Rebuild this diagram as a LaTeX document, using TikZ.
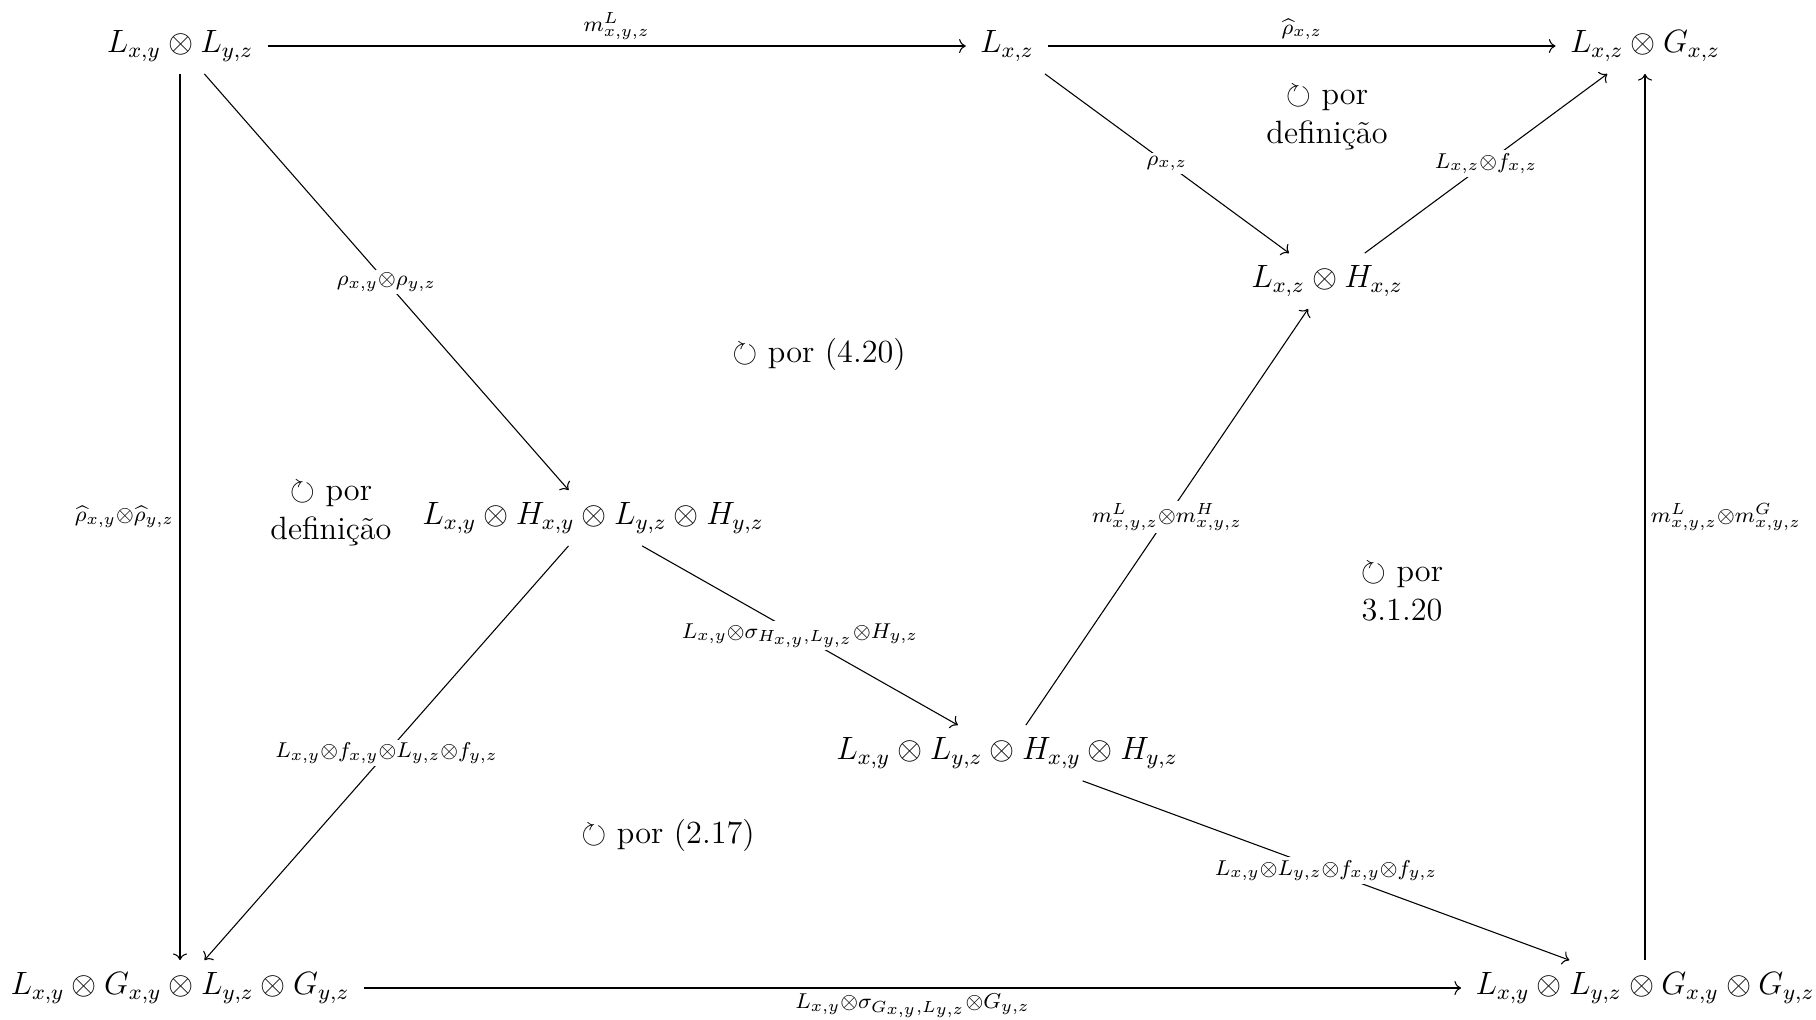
\documentclass[12pt,tikz,border=0pt]{standalone}
\usepackage{amsmath,amssymb}
\usetikzlibrary{arrows.meta,calc}
\begin{document}
\begin{tikzpicture}[x=0.372pt,y=-0.372pt,
  obj/.style={inner xsep=1ex,inner ysep=0.85ex},
  arr/.style={-{Computer Modern Rightarrow},line width=0.4pt},
  desc/.style={fill=white,inner sep=1pt,execute at begin node=$\scriptstyle,execute at end node=$},
  lab/.style={inner sep=2pt,execute at begin node=$\scriptstyle,execute at end node=$},
  comm/.style={align=center,inner sep=0pt}]
\useasboundingbox (0,0) rectangle (1816,1019);
% objects
\node[obj] (A) at (180,46) {$L_{x,y}\otimes L_{y,z}$};
\node[obj] (B) at (1007,46) {$L_{x,z}$};
\node[obj] (C) at (1645,46) {$L_{x,z}\otimes G_{x,z}$};
\node[obj] (D) at (1327,281) {$L_{x,z}\otimes H_{x,z}$};
\node[obj] (E) at (593,518) {$L_{x,y}\otimes H_{x,y}\otimes L_{y,z}\otimes H_{y,z}$};
\node[obj] (F) at (1007,753) {$L_{x,y}\otimes L_{y,z}\otimes H_{x,y}\otimes H_{y,z}$};
\node[obj] (G) at (180,988) {$L_{x,y}\otimes G_{x,y}\otimes L_{y,z}\otimes G_{y,z}$};
\node[obj] (H) at (1645,988) {$L_{x,y}\otimes L_{y,z}\otimes G_{x,y}\otimes G_{y,z}$};
% arrows
\draw[arr] (A) -- node[lab,above] {m^L_{x,y,z}} (B);
\draw[arr] (B) -- node[lab,above] {\widehat{\rho}_{x,z}} (C);
\draw[arr] (B) -- (D);
\node[desc] at ($(B)!.5!(D)$) {\rho_{x,z}};
\draw[arr] (D) -- (C);
\node[desc] at ($(D)!.5!(C)$) {L_{x,z}\otimes f_{x,z}};
\draw[arr] (A) -- (E);
\node[desc] at ($(A)!.5!(E)$) {\rho_{x,y}\otimes\rho_{y,z}};
\draw[arr] (A) -- node[lab,left] {\widehat{\rho}_{x,y}\otimes\widehat{\rho}_{y,z}} (G);
\draw[arr] (E) -- (G);
\node[desc] at ($(E)!.5!(G)$) {L_{x,y}\otimes f_{x,y}\otimes L_{y,z}\otimes f_{y,z}};
\draw[arr] (E) -- (F);
\node[desc] at ($(E)!.5!(F)$) {L_{x,y}\otimes\sigma_{H_{x,y},L_{y,z}}\otimes H_{y,z}};
\draw[arr] (F) -- (D);
\node[desc] at ($(F)!.5!(D)$) {m^L_{x,y,z}\otimes m^H_{x,y,z}};
\draw[arr] (F) -- (H);
\node[desc] at ($(F)!.5!(H)$) {L_{x,y}\otimes L_{y,z}\otimes f_{x,y}\otimes f_{y,z}};
\draw[arr] (G) -- node[lab,below] {L_{x,y}\otimes\sigma_{G_{x,y},L_{y,z}}\otimes G_{y,z}} (H);
\draw[arr] (H) -- node[lab,right] {m^L_{x,y,z}\otimes m^G_{x,y,z}} (C);
% commutativity labels
\node[comm] (c1) at (1327,118) {$\circlearrowright$ por\\definição};
\node[comm] (c2) at (819,354) {$\circlearrowright$ por (4.20)};
\node[comm] (c3) at (331,514) {$\circlearrowright$ por\\definição};
\node[comm] (c4) at (1402,592) {$\circlearrowright$ por\\3.1.20};
\node[comm] (c5) at (668,835) {$\circlearrowright$ por (2.17)};
\end{tikzpicture}
\end{document}
